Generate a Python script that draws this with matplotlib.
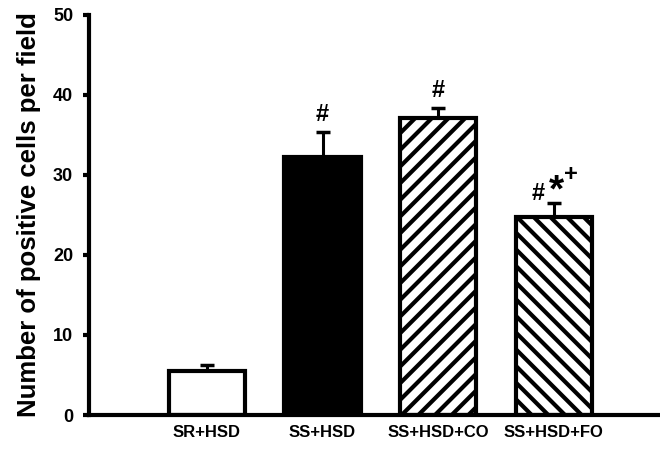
import matplotlib.pyplot as plt

# Data
groups = ['SR+HSD', 'SS+HSD', 'SS+HSD+CO', 'SS+HSD+FO']
means = [5.5, 32.2, 37.1, 24.7]
sems = [0.7, 3.2, 1.3, 1.8]
marks = ['', '#', '#', '#']

plt.rcParams['font.family'] = ['Liberation Sans', 'DejaVu Sans']
plt.rcParams['font.weight'] = 'bold'
plt.rcParams['hatch.linewidth'] = 3

fig = plt.figure(figsize=(6.6, 4.49), dpi=100)
ax = fig.add_axes([0.135, 0.0757, 0.865, 0.891])

x = range(len(groups))
faces = ['white', 'black', 'white', 'white']
hatches = [None, None, '//', '\\\\']
bars = ax.bar(x, means, width=0.66, color=faces, edgecolor='black',
              linewidth=3, zorder=2)
for bar, h in zip(bars, hatches):
    if h:
        bar.set_hatch(h)

# upper error bars only
ax.errorbar(x, means, yerr=[[0] * len(sems), sems], fmt='none',
            ecolor='black', elinewidth=2.2, capsize=5, capthick=2.5, zorder=1)

# significance marks
for i, (m, s, t) in enumerate(zip(means, sems, marks)):
    top = m + s
    if i == 3:
        ax.text(i - 0.134, top + 0.4, '#', ha='center', va='baseline',
                fontsize=17, fontweight='bold')
        ax.text(i + 0.02, top + 0.2, '*', ha='center', va='baseline',
                fontsize=28, fontweight='bold')
        ax.text(i + 0.15, top + 2.8, '+', ha='center', va='baseline',
                fontsize=17, fontweight='bold')
    elif t:
        ax.text(i, top + 1.3, t, ha='center', va='baseline',
                fontsize=17, fontweight='bold')

ax.set_ylim(0, 50)
ax.set_xlim(-1.02, 3.92)
ax.set_yticks([0, 10, 20, 30, 40, 50])
ax.set_xticks(list(x))
ax.set_xticklabels(groups, fontsize=12, fontweight='bold')
ax.tick_params(axis='x', length=0, pad=7)
ax.tick_params(axis='y', length=4.5, width=3, labelsize=13, pad=7)
ax.set_ylabel('Number of positive cells per field', fontsize=18.5,
              fontweight='bold', labelpad=9)

for side in ['top', 'right']:
    ax.spines[side].set_visible(False)
for side in ['left', 'bottom']:
    ax.spines[side].set_linewidth(3)

fig.savefig('out.png', dpi=100)
